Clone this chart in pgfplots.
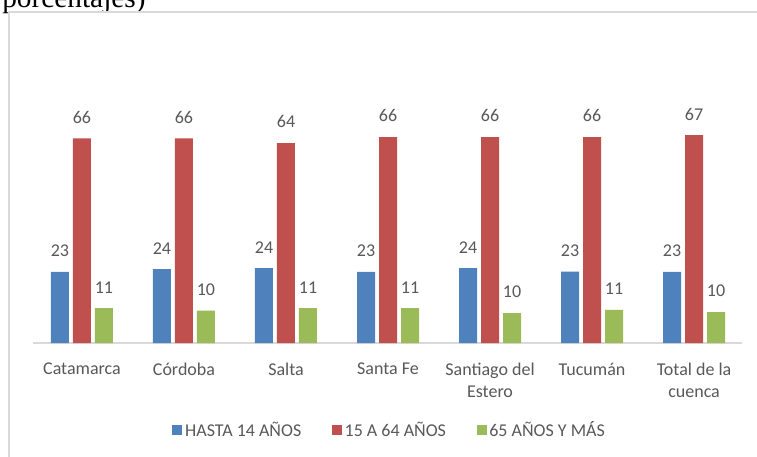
\documentclass[border=0pt]{standalone}
\usepackage{fontspec}
\setmainfont{Carlito}
\newfontfamily\timesf{Liberation Serif}
\usepackage{pgfplots}
\pgfplotsset{compat=1.18}
\definecolor{cblue}{HTML}{4F81BD}
\definecolor{cred}{HTML}{C0504D}
\definecolor{cgreen}{HTML}{9BBB59}
\definecolor{labgray}{HTML}{595959}
\definecolor{axisgray}{HTML}{D9D9D9}
\definecolor{framegray}{HTML}{D9D9D9}

% shares in percent
\pgfplotstableread{
x  y
0  22.8
1  23.7
2  24.0
3  22.8
4  24.0
5  22.9
6  22.8
}\hasta
\pgfplotstableread{
x  y
0  65.6
1  65.6
2  64.1
3  66.0
4  66.0
5  66.0
6  66.6
}\medio
\pgfplotstableread{
x  y
0  11.2
1  10.4
2  11.2
3  11.2
4  9.6
5  10.6
6  9.9
}\mayores

\newcommand{\lblfont}{\fontsize{13.5}{16.5}\selectfont}
\pgfplotsset{sq legend/.style={legend image code/.code={%
  \fill[##1] (0pt,-3.75pt) rectangle (7.5pt,3.75pt);}}}

\begin{document}
\begin{tikzpicture}
\begin{scope}[x=0.75pt,y=-0.75pt]
  \useasboundingbox (0,0) rectangle (757,457);
  \node[anchor=base west, inner sep=0, font=\timesf\fontsize{22}{24}\selectfont] at (2,7.5) {porcentajes)};
  \filldraw[fill=white, draw=framegray, line width=1.1pt] (9,12) rectangle (820,520);
\end{scope}
\begin{axis}[
  at={(24.75pt,-257.25pt)}, anchor=south west,
  scale only axis, width=531.75pt, height=175.5pt,
  xmin=-0.48, xmax=6.47, ymin=0, ymax=75,
  axis x line=bottom, axis y line=none,
  x axis line style={draw=axisgray, line width=0.9pt, -},
  xtick={0,...,6},
  xticklabels={Catamarca, Córdoba, Salta, Santa Fe, Santiago del\\Estero, Tucumán, Total de la\\cuenca},
  xticklabel style={align=center, font=\lblfont, text=labgray, yshift=-11.5pt},
  major tick length=0pt, tick style={draw=none},
  clip=false,
  /pgf/number format/assume math mode=true,
  nodes near coords={\pgfmathprintnumber[fixed,precision=0]{\pgfplotspointmeta}},
  nodes near coords style={font=\lblfont, text=labgray, yshift=7.75pt},
  legend columns=3,
  legend style={at={(0.5035,-0.372)}, anchor=center, draw=none, fill=none,
    font=\lblfont, text=labgray,
    /tikz/every even column/.append style={column sep=21pt}},
]
  \addplot[ybar, bar width=13.5pt, bar shift=-16.5pt, fill=cblue, draw=none, sq legend,
    every node near coord/.append style={xshift=-16.5pt}] table {\hasta};
  \addlegendentry{HASTA 14 AÑOS}
  \addplot[ybar, bar width=13.5pt, bar shift=0pt, fill=cred, draw=none, sq legend] table {\medio};
  \addlegendentry{15 A 64 AÑOS}
  \addplot[ybar, bar width=13.5pt, bar shift=16.5pt, fill=cgreen, draw=none, sq legend,
    every node near coord/.append style={xshift=16.5pt}] table {\mayores};
  \addlegendentry{65 AÑOS Y MÁS}
\end{axis}
\end{tikzpicture}
\end{document}
